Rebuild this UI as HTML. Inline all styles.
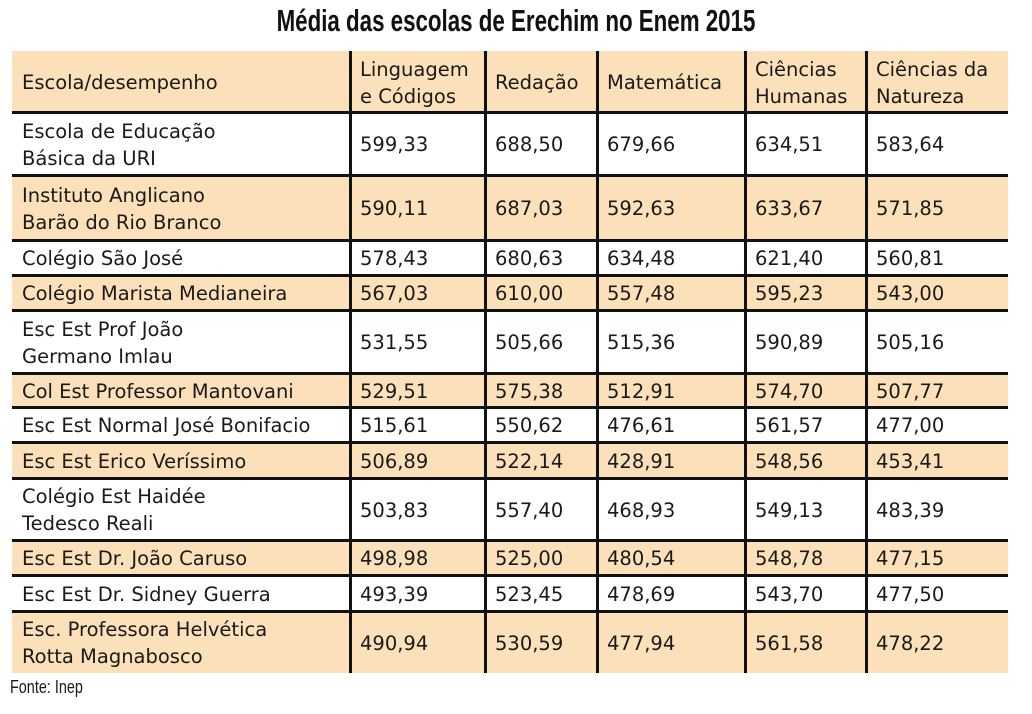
<!DOCTYPE html>
<html><head><meta charset="utf-8"><style>
body{margin:0;width:1032px;height:714px;background:#fff;position:relative;overflow:hidden;font-family:"DejaVu Sans","Liberation Sans",sans-serif;color:#1a1a1a}
.t{position:absolute;left:0;width:1032px;top:3px;text-align:center;font-family:"Liberation Sans",sans-serif;font-size:31px;font-weight:bold;transform:scaleX(0.72);transform-origin:516px 0;color:#111}
.r{position:absolute;left:12px;width:996px}
.o{background:#fbe0b9}
.h{position:absolute;left:12px;width:996px;height:3px;background:#111}
.v{position:absolute;width:3px;background:#111}
.c{position:absolute;font-size:19.5px;line-height:27px;display:flex;align-items:center;white-space:nowrap}
.f{position:absolute;left:10px;top:677px;font-family:"Liberation Sans",sans-serif;font-size:18px;transform:scaleX(0.8);transform-origin:0 0}
</style></head><body>
<div class="t">Média das escolas de Erechim no Enem 2015</div>
<div id="g"></div>
<div class="f">Fonte: Inep</div>
<script>
var rows=[
["Escola/desempenho","Linguagem<br>e Códigos","Redação","Matemática","Ciências<br>Humanas","Ciências da<br>Natureza"],
["Escola de Educação<br>Básica da URI","599,33","688,50","679,66","634,51","583,64"],
["Instituto Anglicano<br>Barão do Rio Branco","590,11","687,03","592,63","633,67","571,85"],
["Colégio São José","578,43","680,63","634,48","621,40","560,81"],
["Colégio Marista Medianeira","567,03","610,00","557,48","595,23","543,00"],
["Esc Est Prof João<br>Germano Imlau","531,55","505,66","515,36","590,89","505,16"],
["Col Est Professor Mantovani","529,51","575,38","512,91","574,70","507,77"],
["Esc Est Normal José Bonifacio","515,61","550,62","476,61","561,57","477,00"],
["Esc Est Erico Veríssimo","506,89","522,14","428,91","548,56","453,41"],
["Colégio Est Haidée<br>Tedesco Reali","503,83","557,40","468,93","549,13","483,39"],
["Esc Est Dr. João Caruso","498,98","525,00","480,54","548,78","477,15"],
["Esc Est Dr. Sidney Guerra","493,39","523,45","478,69","543,70","477,50"],
["Esc. Professora Helvética<br>Rotta Magnabosco","490,94","530,59","477,94","561,58","478,22"]];
var ys=[51,112,175,240,275,310,373,407,442,478,540,575,611,673];
var xs=[12,350,485,597,745,866,1008];
var h="";
for(var i=0;i<rows.length;i++){
 var y0=ys[i],y1=ys[i+1];
 if(i%2==0)h+='<div class="r o" style="top:'+y0+'px;height:'+(y1-y0)+'px"></div>';
 for(var j=0;j<6;j++){
  h+='<div class="c" style="left:'+(xs[j]+10)+'px;top:'+(y0+1)+'px;height:'+(y1-y0)+'px">'+rows[i][j]+'</div>';
 }
 if(i>0)h+='<div class="h" style="top:'+(y0-1)+'px"></div>';
}
for(var j=1;j<6;j++)h+='<div class="v" style="left:'+(xs[j]-1)+'px;top:51px;height:622px"></div>';
document.getElementById("g").innerHTML=h;
</script>
</body></html>
